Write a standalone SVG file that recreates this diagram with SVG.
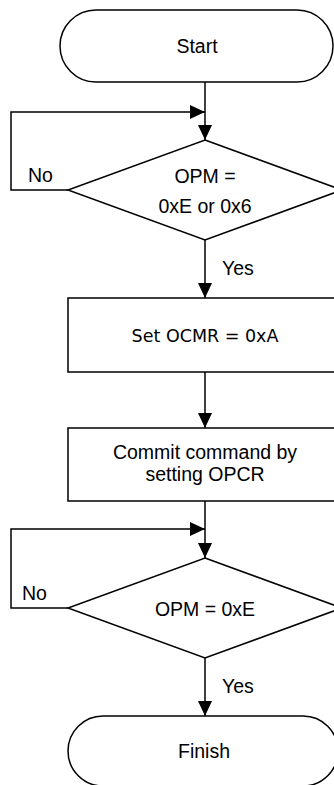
<svg xmlns="http://www.w3.org/2000/svg" width="334" height="785" viewBox="0 0 334 785">
<style>
.s{fill:#fff;stroke:#000;stroke-width:1.5}
.c{fill:none;stroke:#000;stroke-width:1.5}
.t{font-family:"Liberation Sans",Arial,sans-serif;font-size:19.5px;fill:#000}
.m{text-anchor:middle}
.d{font-family:"DejaVu Sans",Verdana,sans-serif;font-size:17.5px;fill:#000}
</style>
<defs>
<marker id="ah" markerWidth="15" markerHeight="14" refX="15" refY="7" orient="auto" markerUnits="userSpaceOnUse">
<path d="M0,0 L15,7 L0,14 Z" fill="#000"/>
</marker>
</defs>
<rect width="334" height="785" fill="#fff"/>
<g id="connectors">
<line class="c" x1="205" y1="82" x2="205" y2="140" marker-end="url(#ah)"/>
<polyline class="c" points="68,190 11,190 11,112 205,112" marker-end="url(#ah)"/>
<line class="c" x1="205" y1="240" x2="205" y2="298" marker-end="url(#ah)"/>
<line class="c" x1="205" y1="372" x2="205" y2="428" marker-end="url(#ah)"/>
<line class="c" x1="205" y1="501" x2="205" y2="558" marker-end="url(#ah)"/>
<polyline class="c" points="68,608 11,608 11,529 205,529" marker-end="url(#ah)"/>
<line class="c" x1="205" y1="658" x2="205" y2="716" marker-end="url(#ah)"/>
<text class="t" x="28" y="182">No</text>
<text class="t" x="222" y="275">Yes</text>
<text class="t" x="22" y="600">No</text>
<text class="t" x="222" y="693">Yes</text>
</g>
<g id="start">
<rect class="s" x="60" y="10" width="273" height="72" rx="36" ry="36"/>
<text class="t m" x="197" y="53">Start</text>
</g>
<g id="decision1">
<polygon class="s" points="205,140 342,190 205,240 68,190"/>
<text class="t m" x="205" y="183">OPM =</text>
<text class="t m" x="205" y="213">0xE or 0x6</text>
</g>
<g id="setocmr">
<rect class="s" x="68" y="298" width="274" height="74"/>
<text class="d m" x="205" y="342">Set OCMR = 0xA</text>
</g>
<g id="commit">
<rect class="s" x="68" y="428" width="274" height="73"/>
<text class="t m" x="205" y="459">Commit command by</text>
<text class="t m" x="205" y="481">setting OPCR</text>
</g>
<g id="decision2">
<polygon class="s" points="205,558 342,608 205,658 68,608"/>
<text class="t m" x="205" y="616">OPM = 0xE</text>
</g>
<g id="finish">
<rect class="s" x="68" y="716" width="270" height="70" rx="35" ry="35"/>
<text class="t m" x="204" y="758">Finish</text>
</g>
</svg>
